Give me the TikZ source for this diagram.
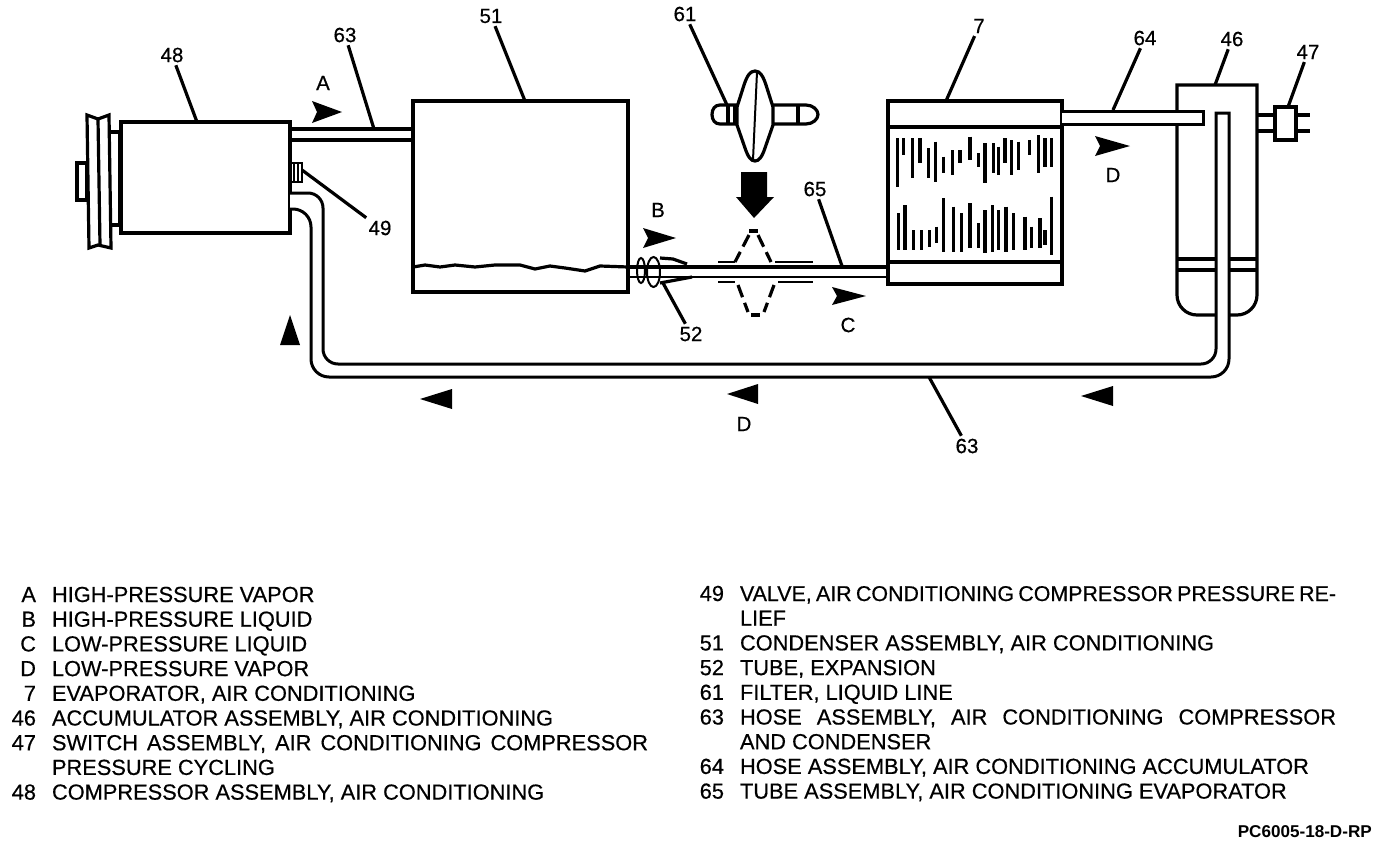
\documentclass[tikz,border=0pt]{standalone}
\usepackage{fontspec}
\setmainfont{Liberation Sans}
\newfontfamily\scanfont[FakeBold=0.5]{Liberation Sans}
\usetikzlibrary{positioning,calc}
\tikzset{
  part/.style={draw,rectangle,line width=3.2pt,inner sep=0pt,outer sep=0pt},
  ln/.style={line width=3.2pt},
  thn/.style={line width=2pt},
  tube/.style={draw,fill=white,line width=3pt},
  ldr/.style={line width=3.2pt},
  flow/.style={fill=black},
  num/.style={font=\scanfont\fontsize{20.5}{20}\selectfont,inner sep=3pt,outer sep=0pt},
  lgd/.style={font=\scanfont\fontsize{21.8}{22}\selectfont,inner sep=0pt,outer sep=0pt,text height=14pt,text depth=0pt,anchor=west},
  nxt/.style={below=of #1.south west,anchor=north west},
  lgdkey/.style={lgd,anchor=east}
}
\newcommand{\jline}[1]{\makebox[596pt][s]{#1}}
\begin{document}
\begin{tikzpicture}[x=1pt,y=-1pt,node distance=10.7pt and 16pt]
  \useasboundingbox (0,0) rectangle (1376,844);

  % compressor
  \draw[ln] (77,163) rectangle (87,200);
  \draw[ln,fill=white] (87,115) -- (98,119) -- (109,115) -- (111,248) -- (98,245) -- (89,248) -- cycle;
  \draw[ln] (98,119) -- (100,245);
  \draw[ln] (109,132) -- (121,132) (111,225) -- (121,225) (120,132) -- (120,225);
  \node[part,minimum width=169pt,minimum height=111pt] (comp) at (205.5,177.5) {};
  \draw[thn] (290,163) rectangle (302,182) (294,164) -- (294,181) (298,164) -- (298,181);

  % condenser
  \node[part,minimum width=215pt,minimum height=191pt] (cond) at (520.5,196.5) {};
  \draw[ln] (413,267) -- (425,265) -- (440,267) -- (455,265) -- (475,267) -- (495,265) -- (520,265) -- (535,269) -- (550,266) -- (565,268) -- (585,271) -- (600,266) -- (628,267);
  \draw[ln] (290,129) -- (413,129) (290,140) -- (413,140);

  % evaporator
  \node[part,minimum width=174pt,minimum height=183pt] (evap) at (975,192.5) {};
  \draw[ln] (evap.west |- 0,127) -- (evap.east |- 0,127);
  \draw[ln] (evap.west |- 0,262) -- (evap.east |- 0,262);
  \foreach \x/\a/\b in {82/415/560,100/415/465,128/415/535,150/415/490,175/445/535,197/425/545,220/470/520,248/450/525,270/450/490,300/410/480,325/460/500,345/430/550,370/430/520,385/440/525,405/415/490,425/420/525,445/425/510,478/420/465,505/405/520,525/415/500,545/415/500,
    85/640/750,105/615/750,130/690/750,155/690/750,178/690/740,200/680/730,220/595/755,250/620/755,275/640/755,300/610/745,325/670/745,345/630/760,368/615/755,385/630/750,408/620/755,430/640/750,465/650/750,485/680/745,510/655/745,525/690/735,545/590/765}
    \draw[line width=3.2pt] ({870+\x/3},{\a/3}) -- ({870+\x/3},{\b/3});

  % accumulator
  \draw[ln] (1177,85) -- (1257,85) [rounded corners=20pt] -- (1257,315) -- (1177,315) [sharp corners] -- cycle;
  \draw[ln] (1177,259) -- (1257,259) (1177,270) -- (1257,270);
  \draw[tube] (1062,111) -- (1203,111) -- (1203,124) -- (1062,124);
  \draw[ln] (1257,115) -- (1310,115) (1257,131) -- (1310,131);
  \node[part,fill=white,minimum width=21pt,minimum height=33pt] (sw) at (1285.5,123.5) {};

  % return hose
  \draw[tube] (290,193) [rounded corners=15pt] -- (323,193) -- (323,364) -- (1216,364) [sharp corners] -- (1216,113) -- (1229,113) [rounded corners=18pt] -- (1229,377) -- (311,377) -- (311,209) [sharp corners] -- (290,209);

  % evaporator tube and expansion tube
  \draw[ln] (628,267) -- (888,267);
  \draw[thn] (628,277) -- (888,277);
  \draw[thn] (641,270.5) ellipse (4 and 12.5) (653.5,272) ellipse (6.5 and 15);
  \draw[ln] (660,258) -- (673,259) -- (687,264) (660,283) -- (692,277);

  % filter
  \draw[ln] (737,105) -- (720,105) .. controls (715,105) and (712,109) .. (712,114.5) .. controls (712,120) and (715,124) .. (720,124) -- (737,124);
  \draw[ln] (728,105) -- (728,124) (735,105) -- (735,124);
  \draw[ln] (773,105) -- (806,105) .. controls (813,105) and (818,110) .. (818,114.5) .. controls (818,119) and (813,124) .. (806,124) -- (773,124);
  \draw[ln] (798,105) -- (798,124);
  \draw[ln] (755,71) .. controls (760,71) and (763,76) .. (766,85) -- (773,107) -- (773,125) -- (765,148) .. controls (762,157) and (759,161) .. (755,161) .. controls (751,161) and (748,157) .. (745,148) -- (737,125) -- (737,107) -- (744,85) .. controls (747,76) and (750,71) .. (755,71) -- cycle;
  \draw[thn] (757,72) -- (753,160);
  \fill (741,172) -- (767,172) -- (767,197) -- (774,197) -- (754,218) -- (736,197) -- (741,197) -- cycle;
  \draw[ln] (749,231) -- (758,231);
  \draw[ln,dash pattern=on 13pt off 6pt] (749,235) -- (735,262) (758,235) -- (771,262) (738,285) -- (748,312) (774,285) -- (764,312);
  \draw[ln] (751,315) -- (760,315);
  \draw[thn] (718,262) -- (735,262) (775,262) -- (813,262) (718,282) -- (735,282) (778,282) -- (813,282);

  % flow arrows
  \foreach \p/\q/\r/\s in {312/101/342/112,643/228/676/238,832/287/866/296,1095/136/1130/146}
    \fill[flow] (\p,\q) -- (\r,\s) -- (\p,{2*\s-\q}) -- (\p+5,\s) -- cycle;
  \foreach \p/\q/\r in {420/399/452,727/394/758,1081/396/1113}
    \fill[flow] (\p,\q) -- (\r,\q-10) -- (\r,\q+10) -- cycle;
  \fill[flow] (290,315) -- (300,345) -- (280,345) -- cycle;

  % numbers and leaders
  \foreach \n/\t/\x/\y in {n48/48/172/55,na/A/323/83,n63/63/345/35,n49/49/380/228,n51/51/491/16,n61/61/685/14,nb/B/658/210,n65/65/815/189,n52/52/691/334,nc/C/848/325,n7/7/979/26,n64/64/1145/38,n46/46/1232/39,n47/47/1308/52,nd/D/1113/175,ne/D/744/424,nf/63/967/446}
    \node[num] (\n) at (\x,\y) {\t};
  \foreach \n/\x/\y in {p48/197/122,p63/374/129,p49/302/170,p51/525/101,p61/727/105,p65/842/266,p52/663/283,p7/946/101,p64/1113/110,p46/1215/85,p47/1288/107,pf/929/377}
    \coordinate (\n) at (\x,\y);
  \draw[ldr] (n48) -- (p48);
  \draw[ldr] (n63) -- (p63);
  \draw[ldr] (n49) -- (p49);
  \draw[ldr] (n51) -- (p51);
  \draw[ldr] (n61) -- (p61);
  \draw[ldr] (n65) -- (p65);
  \draw[ldr] (n52) -- (p52);
  \draw[ldr] (n7) -- (p7);
  \draw[ldr] (n64) -- (p64);
  \draw[ldr] (n46) -- (p46);
  \draw[ldr] (n47) -- (p47);
  \draw[ldr] (nf) -- (pf);

  % legend, left column
  \node[lgd] (ta) at (52,595) {HIGH-PRESSURE VAPOR};
  \node[lgd,nxt=ta] (tb) {HIGH-PRESSURE LIQUID};
  \node[lgd,nxt=tb] (tc) {LOW-PRESSURE LIQUID};
  \node[lgd,nxt=tc] (td) {LOW-PRESSURE VAPOR};
  \node[lgd,nxt=td] (t7) {EVAPORATOR, AIR CONDITIONING};
  \node[lgd,nxt=t7] (t46) {ACCUMULATOR ASSEMBLY, AIR CONDITIONING};
  \node[lgd,nxt=t46] (t47) {\jline{SWITCH ASSEMBLY, AIR CONDITIONING COMPRESSOR}};
  \node[lgd,nxt=t47] (t47b) {PRESSURE CYCLING};
  \node[lgd,nxt=t47b] (t48) {COMPRESSOR ASSEMBLY, AIR CONDITIONING};
  \foreach \k/\t in {ta/A,tb/B,tc/C,td/D,t7/7,t46/46,t47/47,t48/48}
    \node[lgdkey,left=16pt of \k] (k\k) {\t};

  % legend, right column
  \node[lgd] (t49) at (740,594) {\fontsize{21.4}{22}\selectfont\jline{VALVE, AIR CONDITIONING COMPRESSOR PRESSURE RE-}};
  \node[lgd,nxt=t49] (t49b) {LIEF};
  \node[lgd,nxt=t49b] (t51) {CONDENSER ASSEMBLY, AIR CONDITIONING};
  \node[lgd,nxt=t51] (t52) {TUBE, EXPANSION};
  \node[lgd,nxt=t52] (t61) {FILTER, LIQUID LINE};
  \node[lgd,nxt=t61] (t63) {\jline{HOSE ASSEMBLY, AIR CONDITIONING COMPRESSOR}};
  \node[lgd,nxt=t63] (t63b) {AND CONDENSER};
  \node[lgd,nxt=t63b] (t64) {HOSE ASSEMBLY, AIR CONDITIONING ACCUMULATOR};
  \node[lgd,nxt=t64] (t65) {TUBE ASSEMBLY, AIR CONDITIONING EVAPORATOR};
  \foreach \k/\t in {t49/49,t51/51,t52/52,t61/61,t63/63,t64/64,t65/65}
    \node[lgdkey,left=16pt of \k] (k\k) {\t};

  \node[font=\fontsize{17.1}{17}\bfseries\selectfont,anchor=east,inner sep=0pt] (code) at (1372,832) {PC6005-18-D-RP};
\end{tikzpicture}
\end{document}
